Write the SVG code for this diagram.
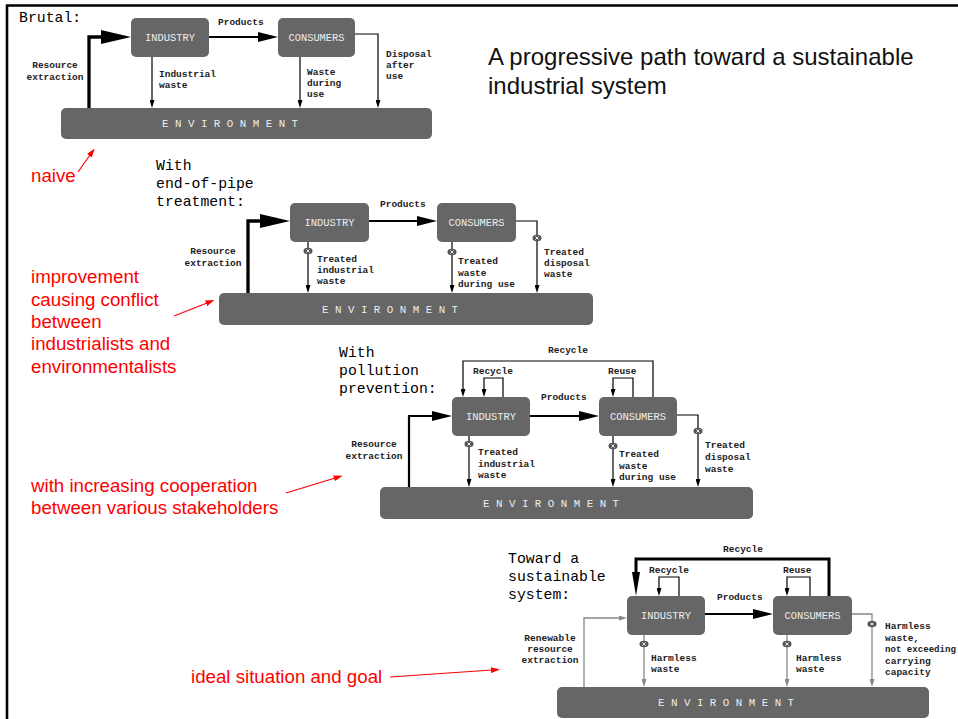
<svg xmlns="http://www.w3.org/2000/svg" width="958" height="719" viewBox="0 0 958 719">
<style>
.box{fill:#666;}
.bt{font-family:"Liberation Mono",monospace;font-size:10.4px;fill:#eee;text-anchor:middle;}
.et{font-family:"Liberation Mono",monospace;font-size:10.8px;fill:#eee;}
.lb{font-family:"Liberation Mono",monospace;font-size:9.5px;font-weight:bold;fill:#222;}
.hd{font-family:"Liberation Mono",monospace;font-size:14.8px;fill:#000;}
.red{font-family:"Liberation Sans",Arial,sans-serif;font-size:18.7px;fill:#f00;}
.title{font-family:"Liberation Sans",Arial,sans-serif;font-size:24px;fill:#111;}
.thick{fill:none;stroke:#000;stroke-width:3.3;}
.med{fill:none;stroke:#000;stroke-width:2.2;}
.thin{fill:none;stroke:#000;stroke-width:1.2;}
.gray{fill:none;stroke:#888;stroke-width:1.3;}
.ra{fill:none;stroke:#f00;stroke-width:1.2;}
.mk{fill:#555;}
.mx{stroke:#fff;stroke-width:0.9;}
</style>
<defs>
<marker id="big" markerUnits="userSpaceOnUse" markerWidth="30" markerHeight="14" refX="1" refY="7" orient="auto"><path d="M0,0 L30,7 L0,14 z" fill="#000"/></marker>
<marker id="medm" markerUnits="userSpaceOnUse" markerWidth="20" markerHeight="10" refX="1" refY="5" orient="auto"><path d="M0,0 L20,5 L0,10 z" fill="#000"/></marker>
<marker id="tall" markerUnits="userSpaceOnUse" markerWidth="24" markerHeight="8" refX="1" refY="4" orient="auto"><path d="M0,0 L24,4 L0,8 z" fill="#000"/></marker>
<marker id="sm" markerUnits="userSpaceOnUse" markerWidth="8" markerHeight="5" refX="1" refY="2.5" orient="auto"><path d="M0,0 L8,2.5 L0,5 z" fill="#000"/></marker>
<marker id="gsm" markerUnits="userSpaceOnUse" markerWidth="8" markerHeight="5" refX="1" refY="2.5" orient="auto"><path d="M0,0 L8,2.5 L0,5 z" fill="#888"/></marker>
<marker id="rm" markerUnits="userSpaceOnUse" markerWidth="9" markerHeight="6" refX="1" refY="3" orient="auto"><path d="M0,0 L9,3 L0,6 z" fill="#f00"/></marker>
<g id="valve"><ellipse cx="0" cy="0" rx="4.5" ry="3.2" class="mk"/><path d="M-1.6,-1.6 L1.6,1.6 M-1.6,1.6 L1.6,-1.6" class="mx"/></g>
</defs>

<!-- frame -->
<path d="M7,719 V5.5 H958" fill="none" stroke="#000" stroke-width="2.6"/>

<text class="title" x="488" y="65">A progressive path toward a sustainable</text>
<text class="title" x="488" y="94">industrial system</text>

<!-- Panel 1 -->
<text class="hd" x="19" y="22">Brutal:</text>
<g id="p1-industry"><rect class="box" x="131" y="18" width="78" height="39" rx="5"/><text class="bt" x="170" y="41">INDUSTRY</text></g>
<g id="p1-consumers"><rect class="box" x="278" y="18" width="77" height="39" rx="5"/><text class="bt" x="316.5" y="41">CONSUMERS</text></g>
<g id="p1-environment"><rect class="box" x="61" y="108" width="371" height="31" rx="5"/><text class="et" x="162" y="127">E N V I R O N M E N T</text></g>
<g id="p1-connectors">
<path class="thick" d="M89,108 V37 H102" marker-end="url(#big)"/>
<path class="med" d="M209,37 H259" marker-end="url(#medm)"/>
<path class="thin" d="M152,57 V101" marker-end="url(#sm)"/>
<path class="thin" d="M300,57 V101" marker-end="url(#sm)"/>
<path class="thin" d="M355,34 H378 V101" marker-end="url(#sm)"/>
</g>
<g id="p1-labels">
<text class="lb" x="218" y="25">Products</text>
<text class="lb" text-anchor="middle"><tspan x="55" y="68">Resource</tspan><tspan x="55" y="80">extraction</tspan></text>
<text class="lb"><tspan x="159" y="77">Industrial</tspan><tspan x="159" y="88">waste</tspan></text>
<text class="lb"><tspan x="307" y="75">Waste</tspan><tspan x="307" y="86">during</tspan><tspan x="307" y="97">use</tspan></text>
<text class="lb"><tspan x="386" y="57">Disposal</tspan><tspan x="386" y="68">after</tspan><tspan x="386" y="79">use</tspan></text>
</g>

<!-- Panel 2 -->
<text class="hd"><tspan x="156" y="170">With</tspan><tspan x="156" y="188">end-of-pipe</tspan><tspan x="156" y="206">treatment:</tspan></text>
<g id="p2-industry"><rect class="box" x="290" y="203" width="79" height="39" rx="5"/><text class="bt" x="329.5" y="225.5">INDUSTRY</text></g>
<g id="p2-consumers"><rect class="box" x="437" y="203" width="79" height="39" rx="5"/><text class="bt" x="476.5" y="225.5">CONSUMERS</text></g>
<g id="p2-environment"><rect class="box" x="219" y="293" width="374" height="32" rx="5"/><text class="et" x="322" y="312.5">E N V I R O N M E N T</text></g>
<g id="p2-connectors">
<path class="thick" d="M248,293 V221 H261" marker-end="url(#big)"/>
<path class="med" d="M369,221 H418" marker-end="url(#medm)"/>
<path class="thin" d="M308,242 V286" marker-end="url(#sm)"/>
<path class="thin" d="M452,242 V286" marker-end="url(#sm)"/>
<path class="thin" d="M516,221 H537 V286" marker-end="url(#sm)"/>
<use href="#valve" x="308" y="251"/>
<use href="#valve" x="452" y="252"/>
<use href="#valve" x="537" y="238"/>
</g>
<g id="p2-labels">
<text class="lb" x="380" y="207">Products</text>
<text class="lb" text-anchor="middle"><tspan x="213" y="254">Resource</tspan><tspan x="213" y="266">extraction</tspan></text>
<text class="lb"><tspan x="317" y="262">Treated</tspan><tspan x="317" y="273">industrial</tspan><tspan x="317" y="284">waste</tspan></text>
<text class="lb"><tspan x="458" y="264">Treated</tspan><tspan x="458" y="275.5">waste</tspan><tspan x="458" y="287">during use</tspan></text>
<text class="lb"><tspan x="544" y="255">Treated</tspan><tspan x="544" y="266">disposal</tspan><tspan x="544" y="277">waste</tspan></text>
</g>

<!-- Panel 3 -->
<text class="hd"><tspan x="339" y="357">With</tspan><tspan x="339" y="375">pollution</tspan><tspan x="339" y="393">prevention:</tspan></text>
<g id="p3-industry"><rect class="box" x="452" y="397" width="78" height="39" rx="5"/><text class="bt" x="491" y="419.5">INDUSTRY</text></g>
<g id="p3-consumers"><rect class="box" x="599" y="397" width="78" height="39" rx="5"/><text class="bt" x="638" y="419.5">CONSUMERS</text></g>
<g id="p3-environment"><rect class="box" x="380" y="487" width="373" height="32" rx="5"/><text class="et" x="483" y="506.5">E N V I R O N M E N T</text></g>
<g id="p3-connectors">
<path class="med" d="M409,487 V416 H433" marker-end="url(#medm)"/>
<path class="med" d="M530,416 H580" marker-end="url(#medm)"/>
<path class="thin" d="M469,436 V480" marker-end="url(#sm)"/>
<path class="thin" d="M613,436 V480" marker-end="url(#sm)"/>
<path class="thin" d="M677,415 H698 V480" marker-end="url(#sm)"/>
<path class="thin" d="M653,397 V361 H463 V390" marker-end="url(#sm)"/>
<path class="thin" d="M503,397 V378 H484 V390" marker-end="url(#sm)"/>
<path class="thin" d="M633,397 V378 H613 V390" marker-end="url(#sm)"/>
<use href="#valve" x="469" y="444"/>
<use href="#valve" x="613" y="446"/>
<use href="#valve" x="698" y="431"/>
</g>
<g id="p3-labels">
<text class="lb" x="541" y="400">Products</text>
<text class="lb" x="568" y="353" text-anchor="middle">Recycle</text>
<text class="lb" x="473" y="374">Recycle</text>
<text class="lb" x="608" y="374">Reuse</text>
<text class="lb" text-anchor="middle"><tspan x="374" y="447">Resource</tspan><tspan x="374" y="459">extraction</tspan></text>
<text class="lb"><tspan x="478" y="455">Treated</tspan><tspan x="478" y="467">industrial</tspan><tspan x="478" y="478">waste</tspan></text>
<text class="lb"><tspan x="619" y="457">Treated</tspan><tspan x="619" y="469">waste</tspan><tspan x="619" y="480">during use</tspan></text>
<text class="lb"><tspan x="705" y="448">Treated</tspan><tspan x="705" y="460">disposal</tspan><tspan x="705" y="472">waste</tspan></text>
</g>

<!-- Panel 4 -->
<text class="hd"><tspan x="508" y="563">Toward a</tspan><tspan x="508" y="581">sustainable</tspan><tspan x="508" y="599">system:</tspan></text>
<g id="p4-industry"><rect class="box" x="627" y="596" width="78" height="39" rx="5"/><text class="bt" x="666" y="618.5">INDUSTRY</text></g>
<g id="p4-consumers"><rect class="box" x="773" y="596" width="79" height="39" rx="5"/><text class="bt" x="812.5" y="618.5">CONSUMERS</text></g>
<g id="p4-environment"><rect class="box" x="557" y="687" width="372" height="31" rx="5"/><text class="et" x="658" y="706">E N V I R O N M E N T</text></g>
<g id="p4-connectors">
<path class="gray" d="M584,687 V618 H620" marker-end="url(#gsm)"/>
<path class="med" d="M705,614 H754" marker-end="url(#medm)"/>
<path class="gray" d="M644,635 V680" marker-end="url(#gsm)"/>
<path class="gray" d="M787,635 V680" marker-end="url(#gsm)"/>
<path class="gray" d="M852,614 H872 V680" marker-end="url(#gsm)"/>
<path fill="none" stroke="#000" stroke-width="3" d="M829,596 V559 H636 V573" marker-end="url(#tall)"/>
<path class="thin" d="M679,596 V577 H659 V589" marker-end="url(#sm)"/>
<path class="thin" d="M810,596 V577 H787 V589" marker-end="url(#sm)"/>
<use href="#valve" x="644" y="644"/>
<use href="#valve" x="787" y="644"/>
<use href="#valve" x="872" y="624"/>
</g>
<g id="p4-labels">
<text class="lb" x="717" y="600">Products</text>
<text class="lb" x="743" y="552" text-anchor="middle">Recycle</text>
<text class="lb" x="649" y="573">Recycle</text>
<text class="lb" x="783" y="573">Reuse</text>
<text class="lb" text-anchor="middle"><tspan x="550" y="641">Renewable</tspan><tspan x="550" y="652">resource</tspan><tspan x="550" y="663">extraction</tspan></text>
<text class="lb"><tspan x="651" y="661">Harmless</tspan><tspan x="651" y="672">waste</tspan></text>
<text class="lb"><tspan x="796" y="661">Harmless</tspan><tspan x="796" y="672">waste</tspan></text>
<text class="lb"><tspan x="885" y="629">Harmless</tspan><tspan x="885" y="640.5">waste,</tspan><tspan x="885" y="652" font-size="9.1px">not exceeding</tspan><tspan x="885" y="663.5">carrying</tspan><tspan x="885" y="675">capacity</tspan></text>
</g>

<!-- Red annotations -->
<g id="annotations">
<text class="red" x="31" y="182">naive</text>
<path class="ra" d="M78,172 L90,155" marker-end="url(#rm)"/>
<text class="red"><tspan x="31" y="283">improvement</tspan><tspan x="31" y="305.5">causing conflict</tspan><tspan x="31" y="328">between</tspan><tspan x="31" y="350">industrialists and</tspan><tspan x="31" y="372.5">environmentalists</tspan></text>
<path class="ra" d="M174,316 L207,303" marker-end="url(#rm)"/>
<text class="red"><tspan x="31" y="492">with increasing cooperation</tspan><tspan x="31" y="513.5">between various stakeholders</tspan></text>
<path class="ra" d="M286,493 L335,478" marker-end="url(#rm)"/>
<text class="red" x="191" y="683">ideal situation and goal</text>
<path class="ra" d="M390,677 L492,670" marker-end="url(#rm)"/>
</g>
</svg>
